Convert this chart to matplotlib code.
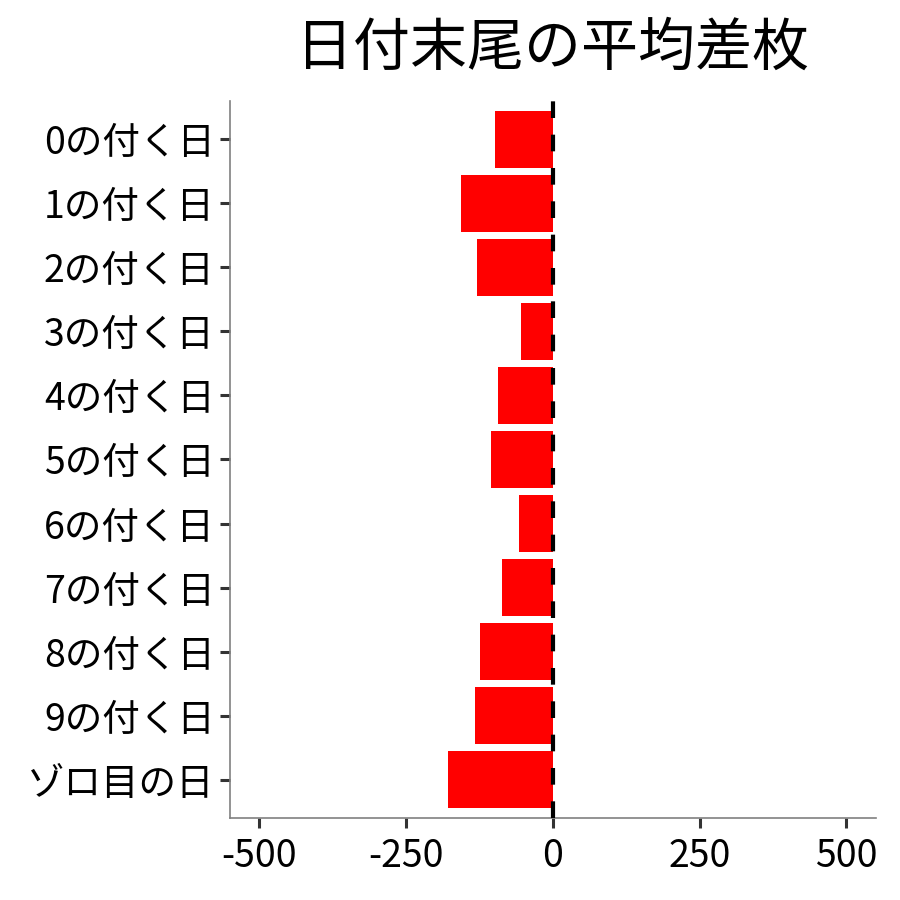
import matplotlib
matplotlib.use("Agg")
import matplotlib.pyplot as plt

plt.rcParams['font.family'] = ['Noto Sans CJK JP', 'DejaVu Sans']

# 日付末尾ごとの平均差枚
labels = ['0の付く日', '1の付く日', '2の付く日', '3の付く日', '4の付く日',
          '5の付く日', '6の付く日', '7の付く日', '8の付く日', '9の付く日',
          'ゾロ目の日']
values = [-99, -156, -129, -54, -94, -105, -58, -87, -124, -133, -179]
xticks = [-500, -250, 0, 250, 500]

fig = plt.figure(figsize=(9, 9), dpi=100)
ax = fig.add_axes([0.2556, 0.0911, 0.7174, 0.7967])

pos = list(range(len(labels)))
ax.barh(pos, values, height=0.9, color='#ff0000', zorder=2)
ax.axvline(0, color='black', linewidth=3, linestyle=(0, (4, 4)), zorder=3)

ax.set_xlim(-550, 550)
ax.set_ylim(len(labels) - 0.4, -0.6)
ax.set_yticks(pos)
ax.set_yticklabels(labels)
ax.set_xticks(xticks)
ax.set_xticklabels([str(t) for t in xticks])

for s in ['top', 'right']:
    ax.spines[s].set_visible(False)
for s in ['left', 'bottom']:
    ax.spines[s].set_color('#808080')
    ax.spines[s].set_linewidth(1.2)

ax.tick_params(axis='both', labelsize=27, colors='#333333', length=7, width=2.2,
               labelcolor='black', pad=4)
ax.tick_params(axis='x', pad=7)

ax.set_title('日付末尾の平均差枚', fontsize=41, pad=26)

fig.savefig('out.png', dpi=100)
